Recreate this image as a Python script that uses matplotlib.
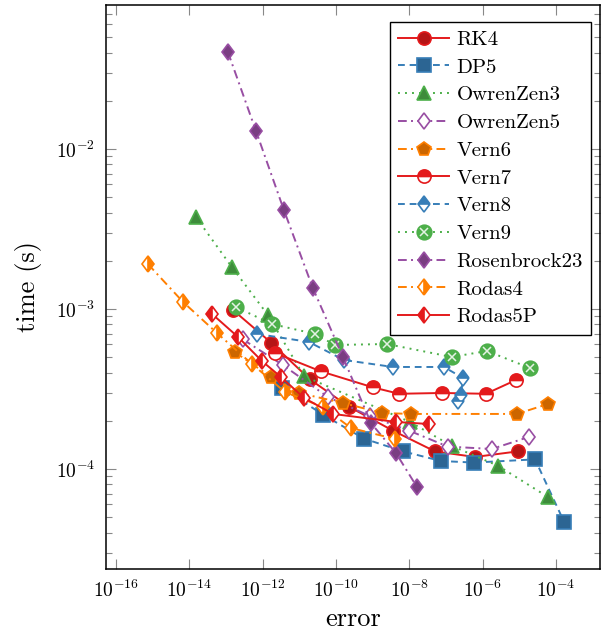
import numpy as np
import matplotlib
matplotlib.use("Agg")
from matplotlib import pyplot as plt
from matplotlib import ticker
from matplotlib.markers import MarkerStyle
from matplotlib.transforms import Affine2D
from matplotlib.legend_handler import HandlerTuple

plt.rcParams['font.family'] = 'cmr10'
plt.rcParams['mathtext.fontset'] = 'cm'
plt.rcParams['axes.formatter.use_mathtext'] = True

# log10 of error / time
rk4_e = [-12.81, -11.77, -10.71, -9.65, -8.45, -7.30, -6.21, -5.04]
rk4_t = [-3.006, -3.21, -3.44, -3.61, -3.76, -3.89, -3.925, -3.89]

dp5_e = [-11.47, -10.355, -9.24, -8.17, -7.14, -6.24, -4.57, -3.78]
dp5_t = [-3.494, -3.66, -3.81, -3.89, -3.95, -3.96, -3.94, -4.33]

oz3_e = [-13.82, -12.84, -11.855, -10.87, -7.98, -6.84, -5.58, -4.22]
oz3_t = [-2.425, -2.7375, -3.0375, -3.42, -3.706, -3.856, -3.98, -4.175]

oz5_e = [-12.54, -11.45, -10.22, -9.07, -8.01, -6.95, -5.75, -4.74]
oz5_t = [-3.19, -3.35, -3.55, -3.67, -3.76, -3.86, -3.875, -3.80]

v6_e = [-12.755, -11.77, -11.01, -9.81, -8.746, -7.955, -5.065, -4.22]
v6_t = [-3.27, -3.425, -3.525, -3.5875, -3.65, -3.656, -3.656, -3.594]

v7_e = [-11.66, -10.41, -8.99, -8.28, -7.11, -5.91, -5.09]
v7_t = [-3.275, -3.39, -3.49, -3.53, -3.525, -3.53, -3.444]

v8_e = [-12.155, -10.74, -9.78, -8.446, -7.055, -6.537, -6.59, -6.674]
v8_t = [-3.156, -3.206, -3.319, -3.3625, -3.3625, -3.431, -3.5375, -3.575]

v9_e = [-12.73, -11.75, -10.57, -10.03, -8.61, -6.84, -5.88, -4.71]
v9_t = [-2.9875, -3.094, -3.156, -3.225, -3.219, -3.30, -3.2625, -3.369]

rb23_e = [-12.946, -12.18, -11.42, -10.63, -9.81, -9.046, -8.364, -7.79]
rb23_t = [-1.394, -1.8875, -2.381, -2.869, -3.30, -3.7125, -3.90, -4.1125]

rd4_e = [-15.127, -14.17, -13.246, -12.29, -11.39, -10.355, -9.59, -8.39]
rd4_t = [-2.719, -2.956, -3.15, -3.344, -3.519, -3.6125, -3.744, -3.8125]

rd5p_e = [-13.38, -12.67, -12.02, -11.5, -10.87, -10.08, -8.364, -7.464]
rd5p_t = [-3.031, -3.175, -3.325, -3.425, -3.556, -3.656, -3.706, -3.719]

xticks = [-16, -14, -12, -10, -8, -6, -4]

red, blue, green, purple, orange = '#e41a1c', '#377eb8', '#4daf4a', '#984ea3', '#ff7f00'
dark = {red: '#b61516', blue: '#2c6593', green: '#3e8c3b', purple: '#7a3e82', orange: '#cc6600'}

dotted = (0, (1, 2.6))
dashed = (0, (3.5, 2.5))
dashdot = (0, (4.5, 2.2, 1, 2.2))

fig = plt.figure(figsize=(6.05, 6.31), dpi=100)
ax = fig.add_axes([0.1752, 0.0983, 0.8165, 0.8938])

lw = 1.4
handles = []
labels = []


def diamond(fill='full'):
    return MarkerStyle('D', fillstyle=fill, transform=Affine2D().scale(0.75, 1.0))


def series(e, t, name, color, ls, marker, ms, fill='full', face=None, alt='white'):
    if face is None:
        face = dark[color]
    kw = dict(color=color, ls=ls, lw=lw, ms=ms, mec=color, mew=1.2, mfc=face,
              markerfacecoloralt=alt)
    if marker == 'dia':
        kw['marker'] = diamond(fill)
    else:
        kw['marker'] = marker
        kw['fillstyle'] = fill
    l, = ax.plot(10.0**np.array(e), 10.0**np.array(t), **kw)
    handles.append(l)
    labels.append(name)
    return l


series(rk4_e, rk4_t, 'RK4', red, '-', 'o', 9.5)
series(dp5_e, dp5_t, 'DP5', blue, dashed, 's', 9.5)
series(oz3_e, oz3_t, 'OwrenZen3', green, dotted, '^', 9.5)
series(oz5_e, oz5_t, 'OwrenZen5', purple, dashdot, 'dia', 8.5, face='white')
series(v6_e, v6_t, 'Vern6', orange, dashdot, 'p', 10)
series(v7_e, v7_t, 'Vern7', red, '-', 'o', 9.5, fill='top', face=red)
series(v8_e, v8_t, 'Vern8', blue, dashed, 'dia', 8.5, fill='top', face=blue)
l9 = series(v9_e, v9_t, 'Vern9', green, dotted, 'o', 10.5, face=green)
x9, = ax.plot(10.0**np.array(v9_e), 10.0**np.array(v9_t), ls='none', marker='x',
              ms=5.5, mew=1.1, color='#e4f2e3')
handles[-1] = (l9, x9)
series(rb23_e, rb23_t, 'Rosenbrock23', purple, dashdot, 'dia', 8.5)
series(rd4_e, rd4_t, 'Rodas4', orange, dashdot, 'dia', 8.5, fill='right', face=orange)
series(rd5p_e, rd5p_t, 'Rodas5P', red, '-', 'dia', 8.5, fill='left', face=red)

ax.set_xscale('log')
ax.set_yscale('log')
ax.set_xlim(10**-16.27, 10**-2.80)
ax.set_ylim(10**-4.625, 10**-1.10)

ax.xaxis.set_major_locator(ticker.FixedLocator([10.0**v for v in xticks]))
ax.xaxis.set_minor_locator(ticker.NullLocator())
ax.xaxis.set_major_formatter(ticker.LogFormatterSciNotation())
ax.yaxis.set_major_locator(ticker.LogLocator(base=10))
ax.yaxis.set_minor_locator(ticker.LogLocator(base=10, subs=np.arange(2, 10)))
ax.yaxis.set_minor_formatter(ticker.NullFormatter())

ax.tick_params(which='both', direction='in', top=True, right=True, color='#888888',
               labelsize=14, pad=8)
ax.tick_params(which='major', length=7.5, width=0.8)
ax.tick_params(which='minor', length=4, width=0.8)
for s in ax.spines.values():
    s.set_linewidth(1.1)

ax.set_xlabel('error', fontsize=19, labelpad=4)
ax.set_ylabel('time (s)', fontsize=19, labelpad=10)

leg = ax.legend(handles, labels, loc='upper right', bbox_to_anchor=(0.982, 0.970),
                fontsize=15, frameon=True, fancybox=False, edgecolor='black',
                framealpha=1, handlelength=2.45, handletextpad=0.35,
                labelspacing=0.44, borderpad=0.4, borderaxespad=0,
                handler_map={tuple: HandlerTuple(ndivide=1)})
leg.get_frame().set_linewidth(1.0)

fig.savefig('out.png', dpi=100)
